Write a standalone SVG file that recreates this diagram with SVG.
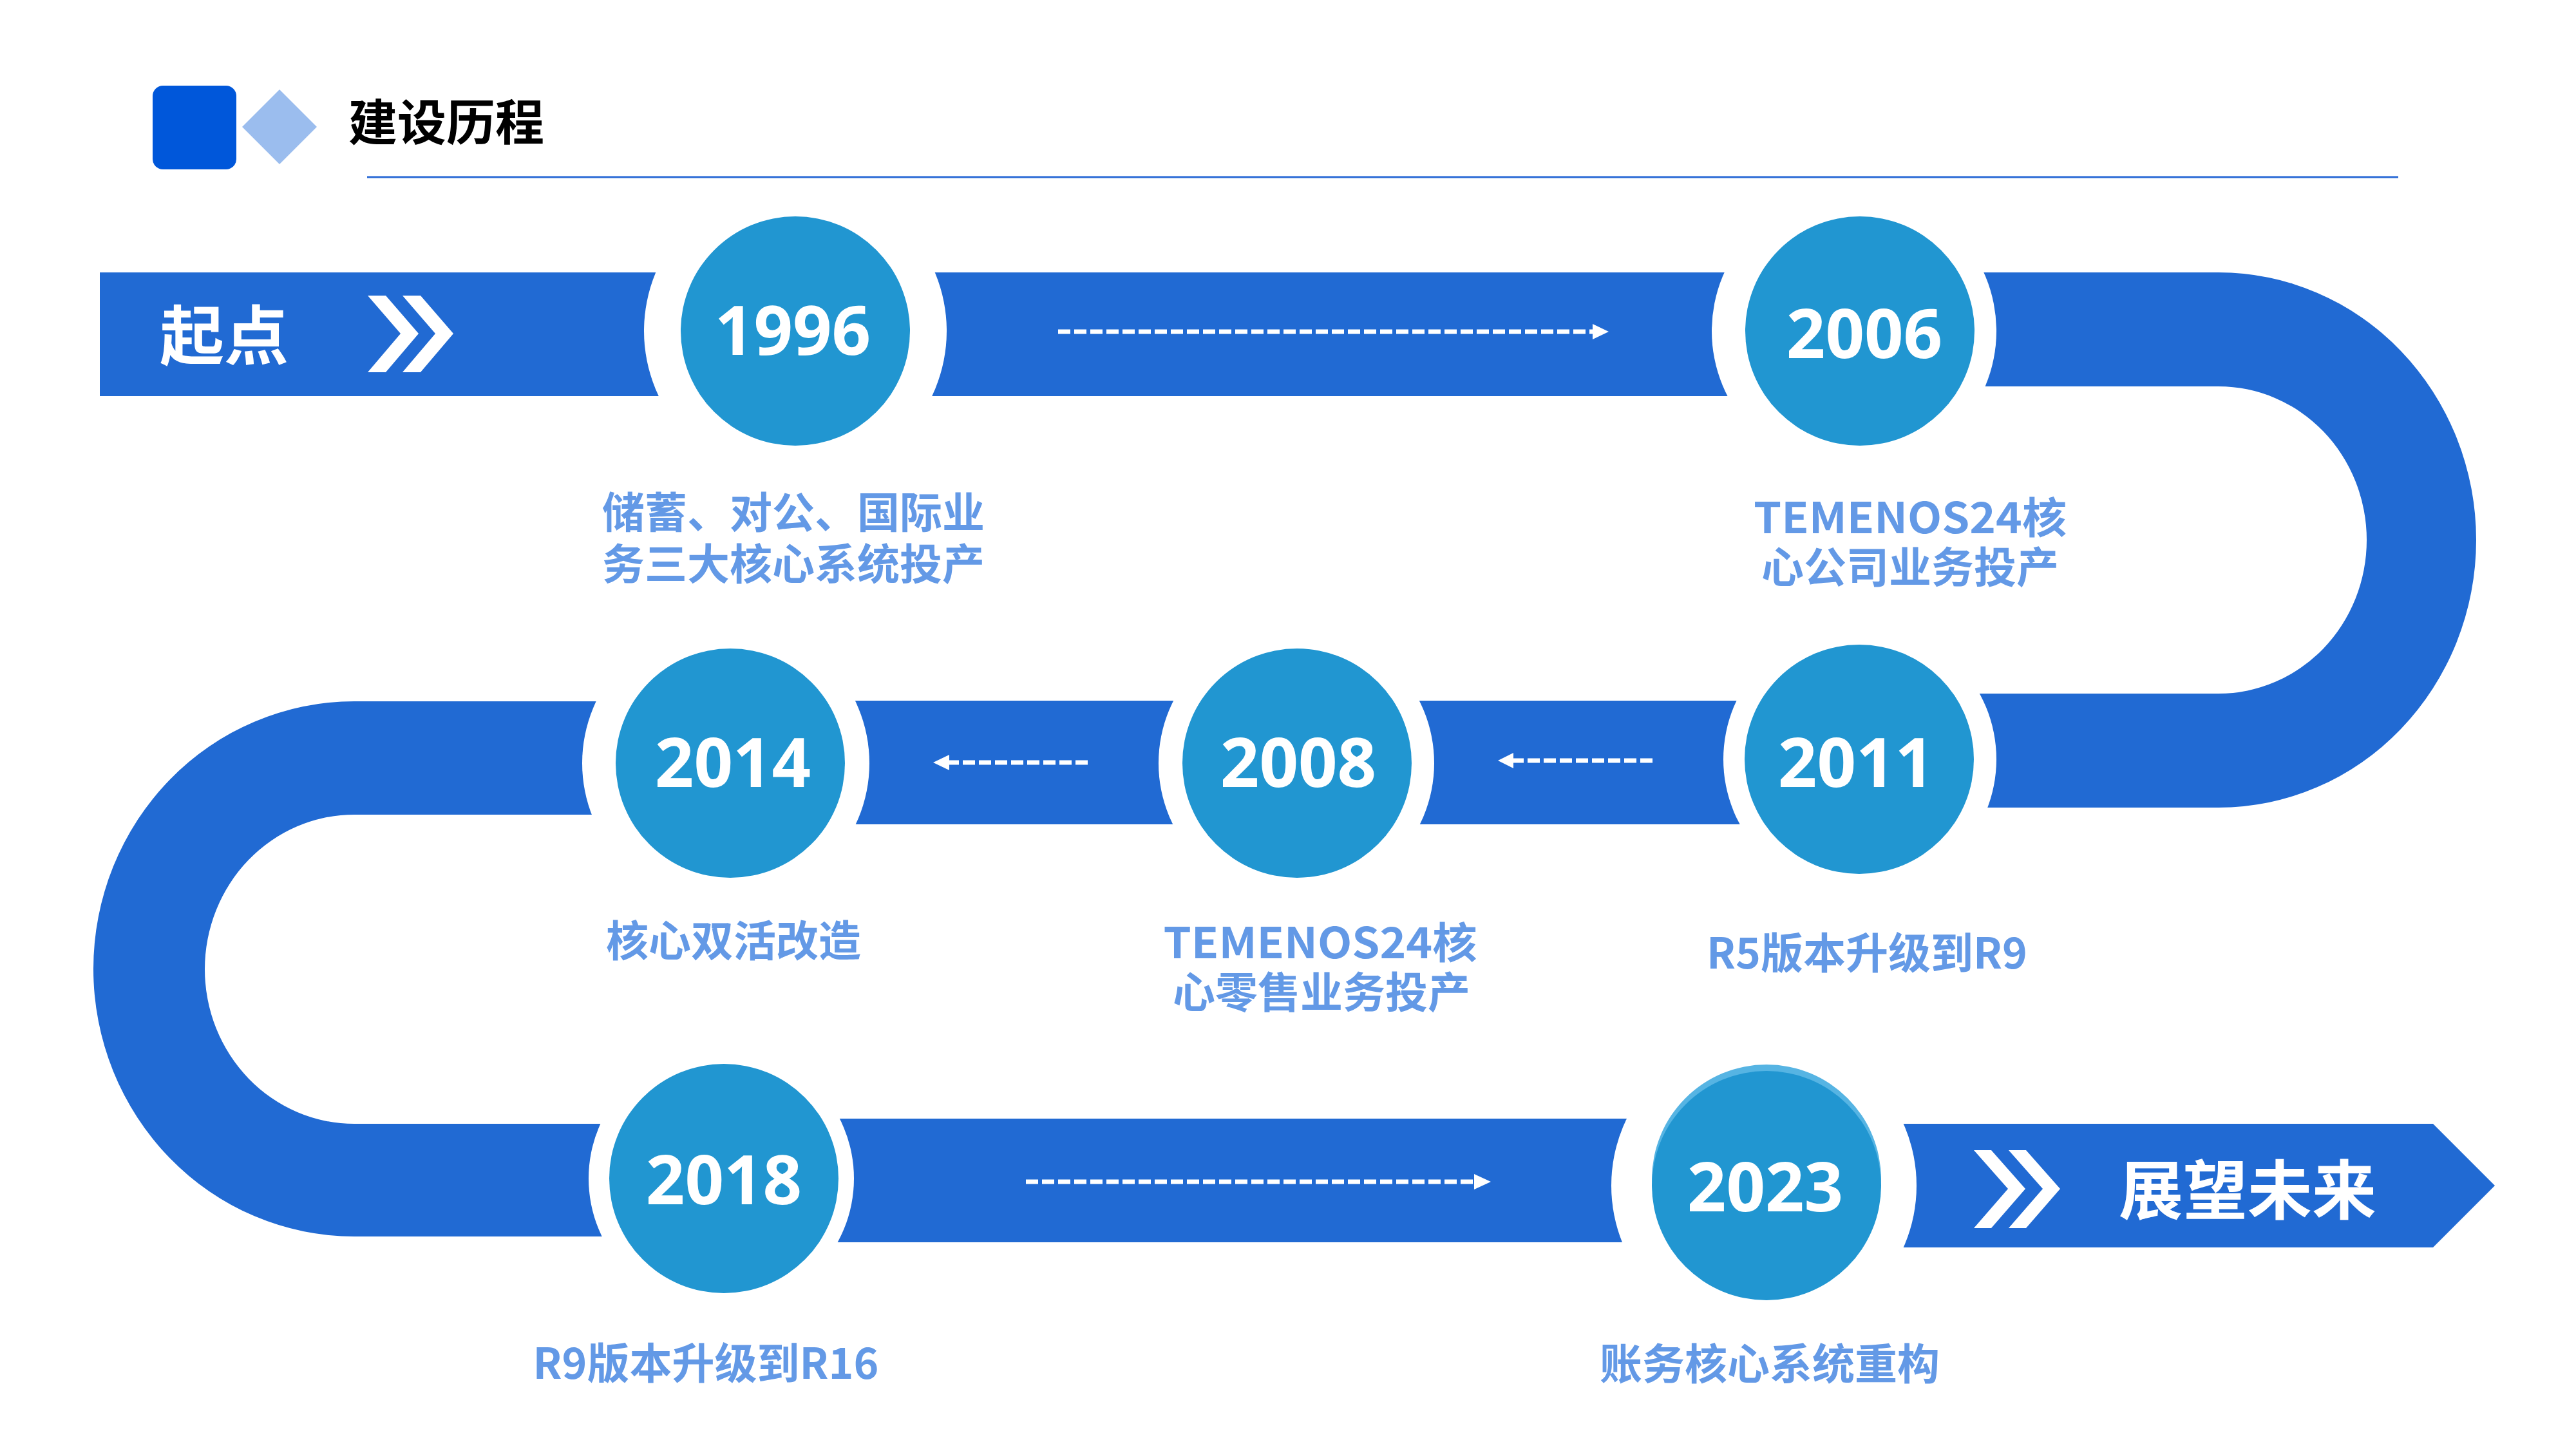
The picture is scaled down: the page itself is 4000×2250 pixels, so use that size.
<svg xmlns="http://www.w3.org/2000/svg" width="4000" height="2250" viewBox="0 0 4000 2250">
<defs>
<style>
.band{fill:#216AD3;}
.ring{fill:#FFFFFF;}
.dot{fill:#2196D1;}
.year{font-family:"Open Sans","Noto Sans",sans-serif;font-weight:700;font-size:106px;fill:#FFFFFF;text-anchor:middle;}
.lbl{font-family:"Noto Sans CJK SC","Noto Sans",sans-serif;font-weight:700;font-size:66px;fill:#6399E6;text-anchor:middle;}
.big{font-family:"Noto Sans CJK SC",sans-serif;font-weight:700;font-size:100px;fill:#FFFFFF;}
.chev{fill:#FFFFFF;}
.dash{fill:none;stroke:#FFFFFF;stroke-width:7;stroke-dasharray:19 6;}
.head{fill:#FFFFFF;}
</style>
</defs>
<rect width="4000" height="2250" fill="#FFFFFF"/>

<g id="header">
<rect x="237" y="133" width="130" height="130" rx="16" fill="#0057DA"/>
<polygon points="434,139 492,197 434,255 376,197" fill="#9BBDEE"/>
<text x="541" y="218" font-family="'Noto Sans CJK SC',sans-serif" font-weight="700" font-size="76" fill="#000000">建设历程</text>
<line x1="570" y1="275" x2="3724" y2="275" stroke="#2A6AD6" stroke-width="3"/>
</g>

<g id="track">
<path class="band" d="M155,423 H2800 V615 H155 Z"/>
<path class="band" d="M2800,423 H3445 A400,415.5 0 0 1 3445,1254 H2800 V1077 H3445 A230,238.5 0 0 0 3445,600 H2800 Z"/>
<path class="band" d="M1130,1088 H2880 V1280 H1130 Z"/>
<path class="band" d="M1130,1089 H550 A405,415.5 0 0 0 550,1920 H1130 V1745 H550 A232,240 0 0 1 550,1265 H1130 Z"/>
<path class="band" d="M1120,1737 H2740 V1929 H1120 Z"/>
<path class="band" d="M2740,1745 H3778 L3874,1841 L3778,1937 H2740 Z"/>
</g>

<g id="start">
<text class="big" x="248" y="558">起点</text>
<polygon class="chev" points="571,459 599,459 650,518 599,578 571,578 622,518"/>
<polygon class="chev" points="625,459 653,459 704,518 653,578 625,578 676,518"/>
</g>

<g id="rings">
<circle class="ring" cx="1235" cy="514" r="235"/>
<circle class="ring" cx="2879" cy="514" r="221"/>
<circle class="ring" cx="2888" cy="1179" r="212"/>
<circle class="ring" cx="2013" cy="1185" r="214"/>
<circle class="ring" cx="1127" cy="1185" r="223"/>
<circle class="ring" cx="1120" cy="1830" r="206"/>
<circle class="ring" cx="2739" cy="1841" r="237"/>
</g>

<g id="connectors">
<path class="dash" d="M1643,515 H2474"/>
<polygon class="head" points="2473,503 2498,515 2473,527"/>
<path class="dash" d="M2566,1181 H2349"/>
<polygon class="head" points="2350,1169 2326,1181 2350,1193"/>
<path class="dash" d="M1689,1184 H1473"/>
<polygon class="head" points="1474,1172 1449,1184 1474,1196"/>
<path class="dash" d="M1593,1835 H2290"/>
<polygon class="head" points="2289,1823 2315,1835 2289,1847"/>
</g>

<g id="node-1996">
<circle class="dot" cx="1235" cy="514" r="178"/>
<text class="year" x="1231" y="551">1996</text>
<text class="lbl"><tspan x="1232" y="820">储蓄、对公、国际业</tspan><tspan x="1232" y="900">务三大核心系统投产</tspan></text>
</g>

<g id="node-2006">
<circle class="dot" cx="2888" cy="514" r="178"/>
<text class="year" x="2895" y="556">2006</text>
<text class="lbl"><tspan x="2966" y="828" textLength="486" lengthAdjust="spacingAndGlyphs">TEMENOS24核</tspan><tspan x="2966" y="905">心公司业务投产</tspan></text>
</g>

<g id="node-2011">
<circle class="dot" cx="2887" cy="1179" r="178"/>
<text class="year" x="2882" y="1222">2011</text>
<text class="lbl" x="2899" y="1504">R5版本升级到R9</text>
</g>

<g id="node-2008">
<circle class="dot" cx="2014" cy="1185" r="178"/>
<text class="year" x="2016" y="1222">2008</text>
<text class="lbl"><tspan x="2050" y="1488" textLength="487" lengthAdjust="spacingAndGlyphs">TEMENOS24核</tspan><tspan x="2052" y="1565">心零售业务投产</tspan></text>
</g>

<g id="node-2014">
<circle class="dot" cx="1134" cy="1185" r="178"/>
<text class="year" x="1138" y="1222">2014</text>
<text class="lbl" x="1139" y="1485">核心双活改造</text>
</g>

<g id="node-2018">
<circle class="dot" cx="1124" cy="1830" r="178"/>
<text class="year" x="1124" y="1870">2018</text>
<text class="lbl" x="1096" y="2141">R9版本升级到R16</text>
</g>

<g id="node-2023">
<circle cx="2743" cy="1831" r="178" fill="#56B4E3"/>
<circle class="dot" cx="2743" cy="1841" r="178"/>
<text class="year" x="2741" y="1881">2023</text>
<text class="lbl" x="2748" y="2142">账务核心系统重构</text>
</g>

<g id="future">
<polygon class="chev" points="3065,1786 3092,1786 3145,1846 3092,1907 3065,1907 3118,1846"/>
<polygon class="chev" points="3119,1786 3146,1786 3199,1846 3146,1907 3119,1907 3172,1846"/>
<text class="big" x="3290" y="1885" font-size="102">展望未来</text>
</g>
</svg>
